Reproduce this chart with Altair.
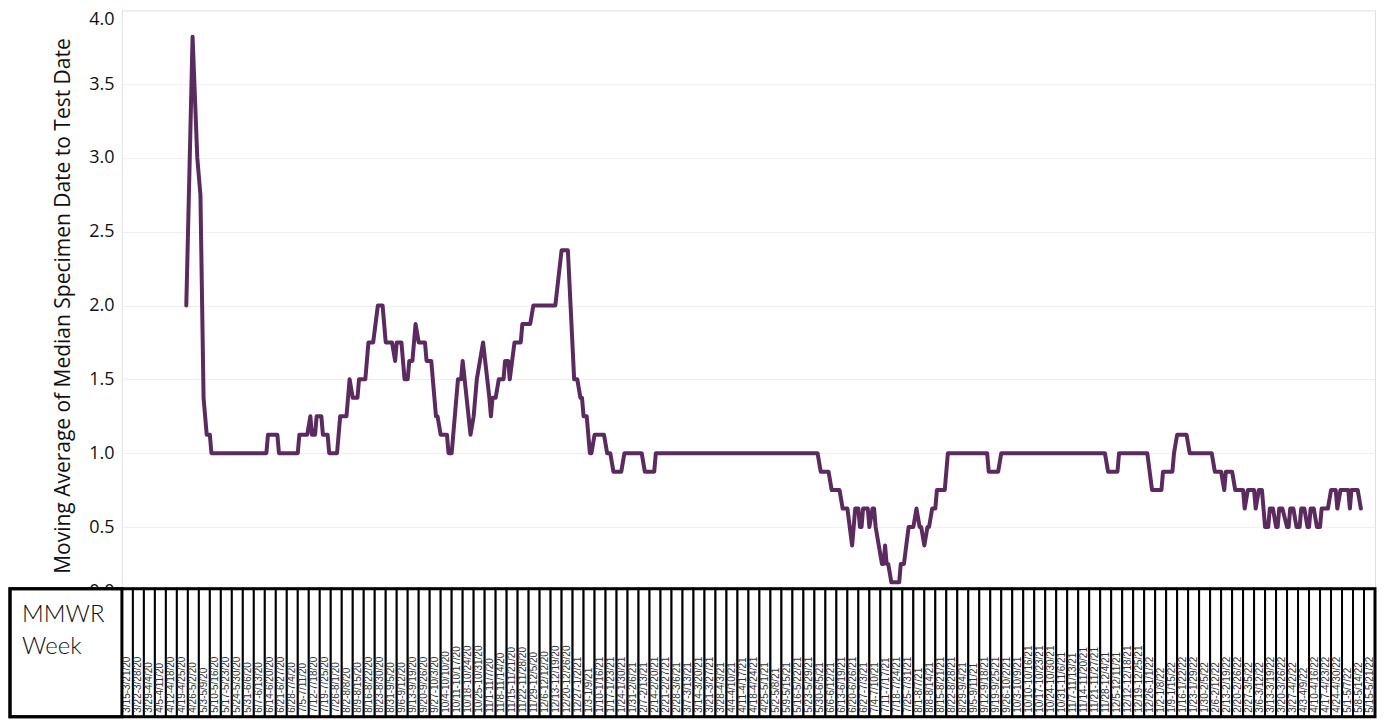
import altair as alt
import pandas as pd

# ---------------- data ----------------
week_labels = [
    "3/15-3/21/20", "3/22-3/28/20", "3/29-4/4/20", "4/5-4/11/20", "4/12-4/18/20", "4/19-4/25/20",
    "4/26-5/2/20", "5/3-5/9/20", "5/10-5/16/20", "5/17-5/23/20", "5/24-5/30/20", "5/31-6/6/20",
    "6/7-6/13/20", "6/14-6/20/20", "6/21-6/27/20", "6/28-7/4/20", "7/5-7/11/20", "7/12-7/18/20",
    "7/19-7/25/20", "7/26-8/1/20", "8/2-8/8/20", "8/9-8/15/20", "8/16-8/22/20", "8/23-8/30/20",
    "8/31-9/5/20", "9/6-9/12/20", "9/13-9/19/20", "9/20-9/26/20", "9/27-10/3/20", "10/4-10/10/20",
    "10/11-10/17/20", "10/18-10/24/20", "10/25-10/31/20", "11/1-11/7/20", "11/8-11/14/20",
    "11/15-11/21/20", "11/22-11/28/20", "11/29-12/5/20", "12/6-12/12/20", "12/13-12/19/20",
    "12/20-12/26/20", "12/27-1/2/21", "1/3-1/9/21", "1/10-1/16/21", "1/17-1/23/21", "1/24-1/30/21",
    "1/31-2/6/21", "2/7-2/13/21", "2/14-2/20/21", "2/21-2/27/21", "2/28-3/6/21", "3/7-3/13/21",
    "3/14-3/20/21", "3/21-3/27/21", "3/28-4/3/21", "4/4-4/10/21", "4/11-4/17/21", "4/18-4/24/21",
    "4/25-5/1/21", "5/2-5/8/21", "5/9-5/15/21", "5/16-5/22/21", "5/23-5/29/21", "5/30-6/5/21",
    "6/6-6/12/21", "6/13-6/19/21", "6/20-6/26/21", "6/27-7/3/21", "7/4-7/10/21", "7/11-7/17/21",
    "7/18-7/24/21", "7/25-7/31/21", "8/1-8/7/21", "8/8-8/14/21", "8/15-8/21/21", "8/22-8/28/21",
    "8/29-9/4/21", "9/5-9/11/21", "9/12-9/18/21", "9/19-9/25/21", "9/26-10/2/21", "10/3-10/9/21",
    "10/10-10/16/21", "10/17-10/23/21", "10/24-10/30/21", "10/31-11/6/21", "11/7-11/13/21",
    "11/14-11/20/21", "11/21-11/27/21", "11/28-12/4/21", "12/5-12/11/21", "12/12-12/18/21",
    "12/19-12/25/21", "12/26-1/1/22", "1/2-1/8/22", "1/9-1/15/22", "1/16-1/22/22", "1/23-1/29/22",
    "1/30-2/5/22", "2/6-2/12/22", "2/13-2/19/22", "2/20-2/26/22", "2/27-3/5/22", "3/6-3/12/22",
    "3/13-3/19/22", "3/20-3/26/22", "3/27-4/2/22", "4/3-4/9/22", "4/10-4/16/22", "4/17-4/23/22",
    "4/24-4/30/22", "5/1-5/7/22", "5/8-5/14/22", "5/15-5/21/22",
]

# days since 3/15/2020 for each vertex of the moving-average line
day = [
    41, 45, 48, 50, 52, 54, 56, 57, 92, 93, 99, 100, 112, 113, 118, 120, 121, 123, 124, 127,
    128, 131, 132, 137, 139, 143, 145, 147, 150, 151, 155, 157, 160, 163, 166, 168, 172, 174, 175, 178,
    180, 182, 183, 185, 187, 189, 193, 194, 197, 200, 201, 203, 207, 208, 210, 214, 216, 217, 222, 224,
    226, 228, 230, 234, 235, 236, 238, 240, 243, 244, 246, 247, 250, 254, 255, 260, 262, 276, 280, 284,
    288, 290, 292, 293, 294, 296, 298, 299, 301, 307, 309, 311, 313, 318, 320, 331, 333, 339, 340, 443,
    445, 450, 452, 457, 459, 462, 465, 467, 469, 470, 471, 472, 475, 476, 478, 479, 480, 482, 484, 485,
    486, 487, 488, 490, 495, 496, 498, 501, 504, 506, 508, 509, 511, 513, 514, 516, 518, 519, 524, 526,
    551, 552, 558, 560, 626, 628, 634, 635, 653, 656, 662, 663, 669, 670, 672, 678, 680, 694, 696, 700,
    702, 703, 707, 709, 714, 715, 717, 721, 722, 724, 726, 728, 730, 731, 733, 735, 736, 737, 739, 742,
    743, 744, 746, 748, 750, 751, 753, 755, 756, 757, 759, 761, 763, 764, 768, 770, 773, 774, 776, 781,
    782, 783, 787, 789,
]
value = [
    2.0, 3.82, 3.0, 2.75, 1.375, 1.125, 1.125, 1.0, 1.0, 1.125, 1.125, 1.0, 1.0, 1.125, 1.125, 1.25, 1.125, 1.125, 1.25, 1.25,
    1.125, 1.125, 1.0, 1.0, 1.25, 1.25, 1.5, 1.375, 1.375, 1.5, 1.5, 1.75, 1.75, 2.0, 2.0, 1.75, 1.75, 1.625, 1.75, 1.75,
    1.5, 1.5, 1.625, 1.625, 1.875, 1.75, 1.75, 1.625, 1.625, 1.25, 1.25, 1.125, 1.125, 1.0, 1.0, 1.5, 1.5, 1.625, 1.125, 1.25,
    1.5, 1.625, 1.75, 1.375, 1.25, 1.375, 1.375, 1.5, 1.5, 1.625, 1.625, 1.5, 1.75, 1.75, 1.875, 1.875, 2.0, 2.0, 2.375, 2.375,
    1.5, 1.5, 1.375, 1.375, 1.25, 1.25, 1.0, 1.0, 1.125, 1.125, 1.0, 1.0, 0.875, 0.875, 1.0, 1.0, 0.875, 0.875, 1.0, 1.0,
    0.875, 0.875, 0.75, 0.75, 0.625, 0.625, 0.375, 0.625, 0.625, 0.5, 0.5, 0.625, 0.625, 0.5, 0.625, 0.625, 0.5, 0.375, 0.25, 0.25,
    0.375, 0.25, 0.25, 0.125, 0.125, 0.25, 0.25, 0.5, 0.5, 0.625, 0.5, 0.5, 0.375, 0.5, 0.5, 0.625, 0.625, 0.75, 0.75, 1.0,
    1.0, 0.875, 0.875, 1.0, 1.0, 0.875, 0.875, 1.0, 1.0, 0.75, 0.75, 0.875, 0.875, 1.0, 1.125, 1.125, 1.0, 1.0, 0.875, 0.875,
    0.75, 0.875, 0.875, 0.75, 0.75, 0.625, 0.75, 0.75, 0.625, 0.75, 0.75, 0.5, 0.5, 0.625, 0.625, 0.5, 0.5, 0.625, 0.625, 0.5,
    0.5, 0.625, 0.625, 0.5, 0.5, 0.625, 0.625, 0.5, 0.5, 0.625, 0.625, 0.5, 0.5, 0.625, 0.625, 0.75, 0.75, 0.625, 0.75, 0.75,
    0.625, 0.75, 0.75, 0.625,
]
y_ticks = [0, 0.5, 1.0, 1.5, 2.0, 2.5, 3.0, 3.5, 4.0]

line_df = pd.DataFrame({"day": day, "value": value})
weeks_df = pd.DataFrame({"label": week_labels, "idx": list(range(len(week_labels)))})
weeks_df["start"] = weeks_df["idx"] * 7
weeks_df["end"] = weeks_df["start"] + 7
weeks_df["mid"] = weeks_df["start"] + 3.5

# ---------------- layout ----------------
W, H = 1254, 591
TAB_TOP, TAB_BOT = 579, 707
HEAD_LEFT = -112
FONT = "Open Sans"

xscale = alt.Scale(domain=[0, 7 * len(week_labels)], nice=False, zero=False)
yscale = alt.Scale(domain=[0, 4], nice=False)

line = alt.Chart(line_df).mark_line(
    color="#5b2b5f", strokeWidth=4, strokeJoin="round", strokeCap="round"
).encode(
    x=alt.X("day:Q", scale=xscale, axis=None),
    y=alt.Y(
        "value:Q",
        scale=yscale,
        axis=alt.Axis(
            values=y_ticks,
            format=".1f",
            title="Moving Average of Median Specimen Date to Test Date",
            labelFlush=True,
            ticks=False,
            domain=True,
            domainColor="#e6e6e6",
            gridColor="#efefef",
            gridWidth=1,
            labelFontSize=18,
            labelFont=FONT,
            labelColor="#111",
            labelPadding=8,
            titleFont=FONT,
            titleFontSize=21,
            titleFontWeight="normal",
            titleColor="#111",
            titlePadding=15,
        ),
    ),
)

cells = alt.Chart(weeks_df).mark_rect(fill="white", stroke="black", strokeWidth=2).encode(
    x=alt.X("start:Q", scale=xscale, axis=None),
    x2="end:Q",
    y=alt.value(TAB_TOP),
    y2=alt.value(TAB_BOT),
)

labels = alt.Chart(weeks_df).mark_text(
    angle=270, align="left", baseline="middle", fontSize=10, font="Liberation Sans", color="#333"
).encode(
    x=alt.X("mid:Q", scale=xscale, axis=None),
    y=alt.value(TAB_BOT - 4),
    text="label:N",
)

head_df = pd.DataFrame({"t": ["MMWR Week"]})
header_box = alt.Chart(head_df).mark_rect(fill="white", stroke="black", strokeWidth=3).encode(
    x=alt.value(HEAD_LEFT), x2=alt.value(0), y=alt.value(TAB_TOP), y2=alt.value(TAB_BOT)
)
header_text = alt.Chart(head_df).mark_text(
    align="left", baseline="top", fontSize=24, font="Lato", fontWeight=300, color="#111", lineHeight=32
).encode(
    x=alt.value(HEAD_LEFT + 12),
    y=alt.value(TAB_TOP + 14),
    text=alt.value(["MMWR", "Week"]),
)
border = alt.Chart(head_df).mark_rect(fillOpacity=0, stroke="black", strokeWidth=3).encode(
    x=alt.value(HEAD_LEFT), x2=alt.value(W), y=alt.value(TAB_TOP), y2=alt.value(TAB_BOT)
)

chart = (
    alt.layer(line, cells, labels, header_box, header_text, border)
    .properties(width=W, height=H, padding={"left": 0, "top": 2, "right": 0, "bottom": 0})
    .configure_view(strokeWidth=0)
    .configure(background="white")
)

chart.save("out.html", embed_options={"renderer": "svg", "actions": False})
